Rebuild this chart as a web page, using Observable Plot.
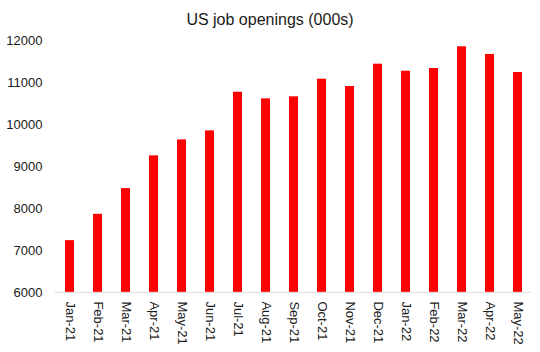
<!DOCTYPE html>
<html>
<head>
<meta charset="utf-8">
<script src="https://cdn.jsdelivr.net/npm/d3@7"></script>
<script src="https://cdn.jsdelivr.net/npm/@observablehq/plot@0.6"></script>
<style>
  html, body { margin: 0; padding: 0; background: #fff; }
  #wrap { width: 540px; height: 352px; font-family: "Liberation Sans", Arial, sans-serif; }
  #title { height: 30px; box-sizing: border-box; padding-top: 11px; line-height: 18px; font-size: 16px; text-align: center; color: #1a1a1a; }
</style>
</head>
<body>
<div id="wrap">
  <div id="title">US job openings (000s)</div>
  <div id="chart"></div>
</div>
<script>
const months = ["Jan-21","Feb-21","Mar-21","Apr-21","May-21","Jun-21","Jul-21","Aug-21","Sep-21","Oct-21","Nov-21","Dec-21","Jan-22","Feb-22","Mar-22","Apr-22","May-22"];
const openings = [7236, 7865, 8479, 9261, 9643, 9858, 10781, 10623, 10671, 11092, 10917, 11451, 11283, 11348, 11867, 11683, 11252];
const yTicks = [6000, 7000, 8000, 9000, 10000, 11000, 12000];

const data = months.map((m, i) => ({month: m, value: openings[i]}));

const chart = Plot.plot({
  width: 540,
  height: 322,
  marginTop: 10.7,
  marginBottom: 60.1,
  marginLeft: 55,
  marginRight: 9,
  style: {fontFamily: "Liberation Sans, Arial, sans-serif", fontSize: "13px", color: "#1a1a1a", background: "#fff"},
  x: {domain: months, paddingInner: 0.68, paddingOuter: 0.34, label: null, tickSize: 0, tickPadding: 9, tickRotate: 90},
  y: {domain: [6000, 12000], ticks: yTicks, tickFormat: d => String(d), label: null, tickSize: 0, tickPadding: 13},
  marks: [
    Plot.barY(data, {x: "month", y1: 6000, y2: "value", fill: "#ff0000"}),
    Plot.ruleY([6000], {stroke: "#d9d9d9", strokeWidth: 1})
  ]
});
document.getElementById("chart").appendChild(chart);
</script>
</body>
</html>
